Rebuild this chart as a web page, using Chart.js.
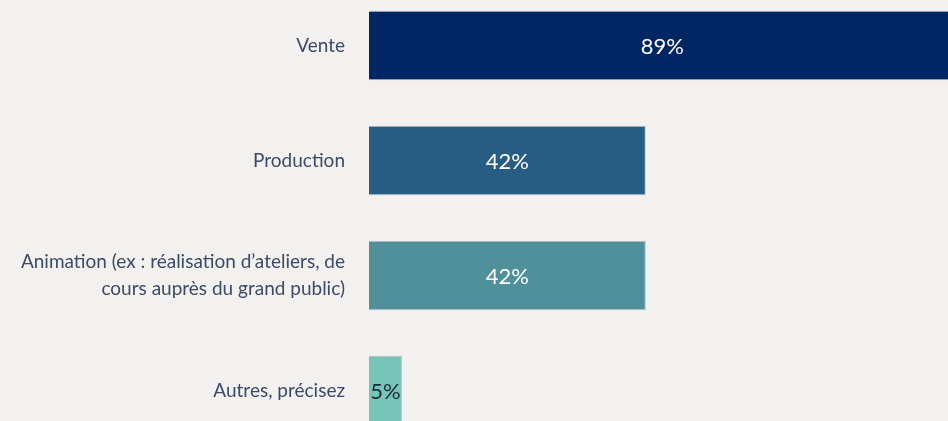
<!DOCTYPE html>
<html lang="fr">
<head>
<meta charset="utf-8">
<script src="https://cdn.jsdelivr.net/npm/chart.js@4.4.1/dist/chart.umd.min.js"></script>
<style>
  html, body { margin: 0; padding: 0; background: #f3f1ef; overflow: hidden; width: 948px; height: 421px; }
  #wrap { position: absolute; left: 0; top: -12px; width: 1028px; height: 460px; }
</style>
</head>
<body>
<div id="wrap"><canvas id="c"></canvas></div>
<script>
// Activités exercées (part des répondants, en %)
const categories = [
  "Vente",
  "Production",
  ["Animation (ex : réalisation d’ateliers, de", "cours auprès du grand public)"],
  "Autres, précisez"
];
const values = [89, 42, 42, 5];
const barColors = ["#002664", "#275d82", "#4f909b", "#76c4b8"];
const labelColors = ["#ffffff", "#ffffff", "#ffffff", "#1c2a38"];

// Écrit la valeur au centre de chaque barre
const valueLabels = {
  id: "valueLabels",
  afterDatasetsDraw(chart) {
    const { ctx, scales: { x, y } } = chart;
    ctx.save();
    ctx.font = "22px Lato";
    ctx.textAlign = "center";
    ctx.textBaseline = "middle";
    values.forEach((v, i) => {
      const cx = (x.getPixelForValue(0) + x.getPixelForValue(v)) / 2;
      const cy = y.getPixelForValue(i);
      ctx.fillStyle = labelColors[i];
      ctx.fillText(v + "%", cx, cy + 1);
    });
    ctx.restore();
  }
};

new Chart(document.getElementById("c"), {
  type: "bar",
  data: {
    labels: categories,
    datasets: [{
      data: values,
      backgroundColor: barColors,
      borderColor: "rgba(150,150,150,0.55)",
      borderWidth: 1,
      categoryPercentage: 1,
      barPercentage: 0.605
    }]
  },
  options: {
    indexAxis: "y",
    responsive: true,
    maintainAspectRatio: false,
    animation: false,
    layout: { padding: 0 },
    plugins: { legend: { display: false }, tooltip: { enabled: false } },
    scales: {
      x: { display: false, min: 0, max: 100 },
      y: {
        grid: { display: false, drawTicks: false },
        border: { display: false },
        ticks: {
          color: "#3b4a66",
          font: { family: "Lato", size: 19, lineHeight: 1.4 },
          padding: 24,
          crossAlign: "near"
        },
        afterFit(scale) {
          scale.width = 369;
          scale.paddingTop = 0;
          scale.paddingBottom = 0;
        }
      }
    }
  },
  plugins: [valueLabels]
});
</script>
</body>
</html>
